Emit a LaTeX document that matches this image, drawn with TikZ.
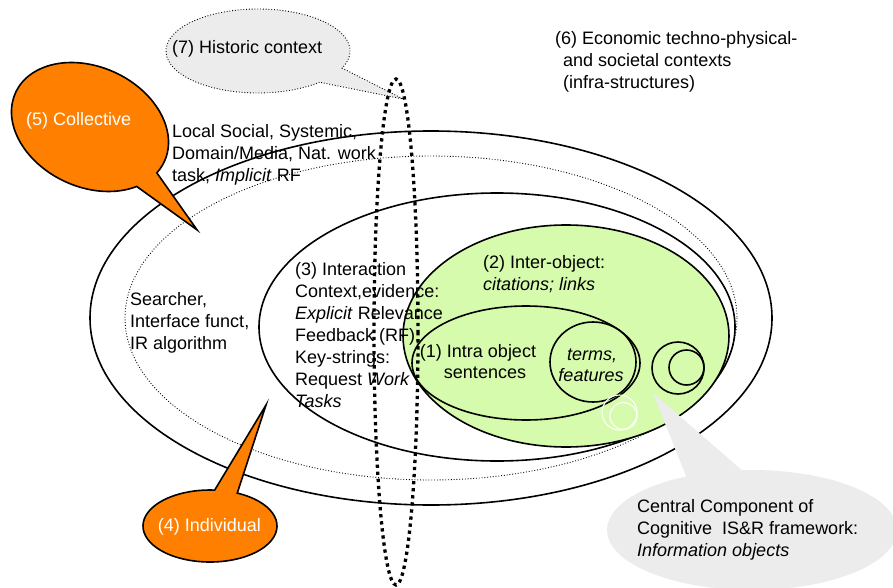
\documentclass[tikz,border=0pt]{standalone}
\usepackage{fontspec}
\setmainfont{Liberation Sans}
\definecolor{objgreen}{RGB}{214,251,172}
\definecolor{callorange}{RGB}{255,128,0}
\definecolor{callgray}{RGB}{236,236,236}
\begin{document}
\begin{tikzpicture}[x=1pt,y=-1pt,
  font=\fontsize{18}{22}\selectfont,
  ring/.style={line width=1.6pt},
  thindots/.style={line width=0.9pt, dash pattern=on 0.9pt off 1.9pt},
  bigdots/.style={line width=3.3pt, dash pattern=on 3.3pt off 3.8pt},
  lbl/.style={anchor=base west, inner sep=0pt},
  clbl/.style={anchor=base, inner sep=0pt},
  wlbl/.style={anchor=base west, inner sep=0pt, text=white}]
\useasboundingbox (0,0) rectangle (893,588);

% nested contexts
\draw[ring] (431,318) ellipse [x radius=341, y radius=187];
\draw[thindots] (431,318) ellipse [x radius=306, y radius=162];
\draw[ring] (497,327) ellipse [x radius=238, y radius=134];
\draw[ring, fill=objgreen] (566,336) ellipse [x radius=163, y radius=111];
\draw[ring] (526,363) ellipse [x radius=114, y radius=57];
\draw[ring, fill=objgreen] (593,362) ellipse [x radius=43, y radius=40];
\draw[ring] (678,368) circle [radius=26];
\draw[ring] (686.5,367.5) circle [radius=17.5];
\draw[white, line width=1.1pt] (619.5,412.5) circle [radius=17.5];
\draw[white, line width=1.1pt] (623.5,416) circle [radius=13.5];

% callouts
\fill[callgray] (752,530) ++(266:145 and 60)
  arc[start angle=266, end angle=603, x radius=145, y radius=60] -- (653,393) -- cycle;
\begin{scope}[rotate around={-25:(90,127)}]
\draw[ring, fill=callorange] (90,127) ++(34.7:82 and 60)
  arc[start angle=34.7, end angle=372.8, x radius=82, y radius=60] -- (230.5,175) -- cycle;
\end{scope}
\draw[ring, fill=callorange] (210,526) ++(-66:67 and 36)
  arc[start angle=-66, end angle=274, x radius=67, y radius=36] -- (266,405) -- cycle;
\draw[thindots, fill=callgray] (258,51) ++(48:92 and 42)
  arc[start angle=48, end angle=384, x radius=92, y radius=42] -- (403,99) -- cycle;

% texts
\node[lbl] (hist) at (172,54) {(7) Historic context};
\node[lbl] (econ) at (555,45) {\vtop{\hbox{(6) Economic techno-physical-}\hbox{\hspace{8pt}and societal contexts}\hbox{\hspace{8pt}(infra-structures)}}};
\node[wlbl] (coll) at (26,126) {(5) Collective};
\node[lbl] (social) at (172,138) {\vtop{\hbox{Local Social, Systemic,}\hbox{Domain/Media, Nat. work}\hbox{task, \textit{Implicit} RF}}};
\node[lbl] (searcher) at (130,305) {\vtop{\hbox{Searcher,}\hbox{Interface funct,}\hbox{IR algorithm}}};
\node[lbl] (inter) at (295,275) {\vtop{\hbox{(3) Interaction}\hbox{Context,evidence:}\hbox{\textit{Explicit} Relevance}\hbox{Feedback (RF),}\hbox{Key-strings:}\hbox{Request \textit{Work}}\hbox{\textit{Tasks}}}};
\node[lbl] (interobj) at (483,268) {\vtop{\hbox{(2) Inter-object:}\hbox{\textit{citations; links}}}};
\node[clbl] (intra1) at (478,357) {(1) Intra object};
\node[clbl] (intra2) at (485,378) {sentences};
\node[clbl] (terms) at (592,360) {\textit{terms,}};
\node[clbl] (feat) at (591,381) {\textit{features}};
\node[wlbl, anchor=base] (indiv) at (209.5,531) {(4) Individual};
\node[lbl] (central) at (637,512) {\vtop{\hbox{Central Component of}\hbox{Cognitive\ \ IS\&R framework:}\hbox{\textit{Information objects}}}};

% historic thread
\draw[bigdots] (396,332) ellipse [x radius=22, y radius=253];
\end{tikzpicture}
\end{document}
